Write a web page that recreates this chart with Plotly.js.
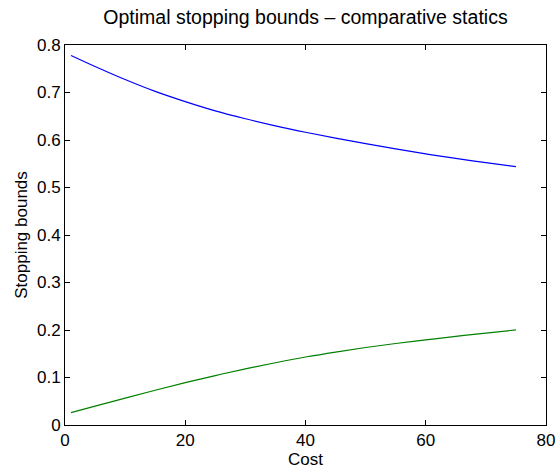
<!DOCTYPE html>
<html>
<head>
<meta charset="utf-8">
<script src="https://cdn.plot.ly/plotly-3.0.1.min.js"></script>
<style>
  html, body { margin: 0; padding: 0; background: #fff; }
  #chart { width: 560px; height: 470px; }
</style>
</head>
<body>
<div id="chart"></div>
<script>
// Data
const cost = [1, 5, 10, 15, 20, 25, 30, 35, 40, 45, 50, 55, 60, 65, 70, 75];
const upperBound = [0.778, 0.7548, 0.7273, 0.7023, 0.6808, 0.6613, 0.6448, 0.6298, 0.6163, 0.6038, 0.5923, 0.5813, 0.5708, 0.5613, 0.5523, 0.5438];
const lowerBound = [0.026, 0.0396, 0.0566, 0.0731, 0.0891, 0.1041, 0.1181, 0.1311, 0.1431, 0.1536, 0.1631, 0.1716, 0.1791, 0.1866, 0.1936, 0.2001];
const xTicks = [0, 20, 40, 60, 80];
const yTicks = [0, 0.1, 0.2, 0.3, 0.4, 0.5, 0.6, 0.7, 0.8];
const yTickLabels = ["0", "0.1", "0.2", "0.3", "0.4", "0.5", "0.6", "0.7", "0.8"];

const FONT = "Liberation Sans, Arial, Helvetica, sans-serif";

const traces = [
  { x: cost, y: upperBound, type: "scatter", mode: "lines",
    line: { color: "rgb(0,0,255)", width: 1.2, shape: "spline", smoothing: 1 }, showlegend: false, hoverinfo: "skip" },
  { x: cost, y: lowerBound, type: "scatter", mode: "lines",
    line: { color: "rgb(0,128,0)", width: 1.2, shape: "spline", smoothing: 1 }, showlegend: false, hoverinfo: "skip" }
];

const axisCommon = {
  showgrid: false, zeroline: false, showline: true, linecolor: "#000", linewidth: 1,
  mirror: "ticks", ticks: "inside", ticklen: 5, tickwidth: 1, tickcolor: "#000",
  tickfont: { family: FONT, size: 17, color: "#000" }
};

const layout = {
  width: 560, height: 470,
  paper_bgcolor: "#fff", plot_bgcolor: "#fff",
  margin: { l: 65, r: 14, t: 45, b: 45, pad: 0 },
  title: {
    text: "Optimal stopping bounds \u2013 comparative statics",
    font: { family: FONT, size: 19.5, color: "#000" },
    x: 0.5, xref: "paper", xanchor: "center",
    y: 1 - 17 / 470, yref: "container", yanchor: "middle"
  },
  xaxis: Object.assign({}, axisCommon, {
    range: [0, 80], tickvals: xTicks, ticktext: xTicks.map(String),
    title: { text: "Cost", font: { family: FONT, size: 17, color: "#000" }, standoff: 0 }
  }),
  yaxis: Object.assign({}, axisCommon, {
    range: [0, 0.8], tickvals: yTicks, ticktext: yTickLabels,
    title: { text: "Stopping bounds", font: { family: FONT, size: 17, color: "#000" }, standoff: 5 }
  })
};

Plotly.newPlot("chart", traces, layout, { displayModeBar: false, staticPlot: true });
</script>
</body>
</html>
